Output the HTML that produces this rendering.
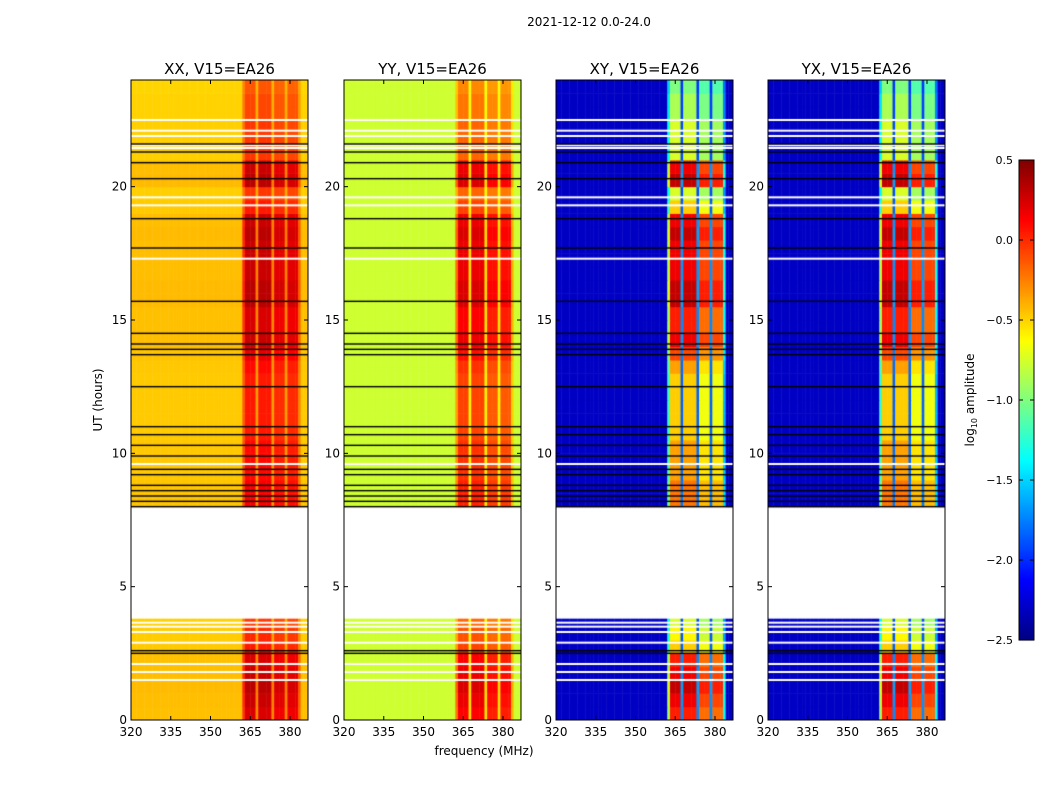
<!DOCTYPE html>
<html><head><meta charset="utf-8">
<style>
body{margin:0;background:#fff;font-family:"DejaVu Sans","Liberation Sans",sans-serif;}
#wrap{position:relative;width:1050px;height:800px;overflow:hidden;}
canvas,svg{position:absolute;left:0;top:0;}
</style></head>
<body>
<div id="wrap">
<canvas id="cv" width="1050" height="800"></canvas>
<svg id="sv" width="1050" height="800" font-family="DejaVu Sans, Liberation Sans, sans-serif"></svg>
</div>
<script>
// ---- data ----
const panelTitles = ["XX, V15=EA26","YY, V15=EA26","XY, V15=EA26","YX, V15=EA26"];
const panelBase = [-0.47, -0.77, -2.3, -2.3];
const panelAmp = [0.75, 1.0, 2.6, 2.6];
const freqStart = 320;
// rfi strength per 1 MHz bin from 320 to 386
const rfiShape = [0,0,0,0,0,0,0,0,0,0, 0,0,0,0,0,0,0,0,0,0, 0,0,0,0,0,0,0,0,0,0, 0,0,0,0,0,0,0,0,0,0,
  0,0,0.6,1,1,1,1,0.25,1,1, 1,1,1,0.25,0.9,0.9,0.9,0.9,0.25,0.9, 0.9,0.9,0.9,0.4,0,0,0];
// activity per 0.5 h from 0 to 24 (null = flagged)
const activity = [0.9,0.95,1.0,0.95,0.9,0.7,0.65,0.6, null,null,null,null,null,null,null,null,
  0.8,0.8,0.75,0.75,0.75,0.7,0.7,0.7,0.7,0.7,0.75,0.85,0.95,0.9,0.9,1.0,
  1.0,0.95,0.95,0.95,1.0,0.95,0.7,0.6,1.0,0.95,0.6,0.6,0.6,0.55,0.55,0.5];
const whiteLines = [1.5,1.8,2.1,2.9,3.3,3.5,3.65,9.6,17.3,19.3,19.6,21.45,21.55,21.9,22.1,22.5];
const blackLines = [2.5,2.6,8.0,8.2,8.4,8.6,8.8,9.2,9.4,9.9,10.3,10.7,11.0,12.5,13.7,13.9,14.1,14.5,15.7,17.7,18.8,20.3,20.9,21.3,21.6];
const flagRange = [3.8,7.9];
const xTicks = [320,335,350,365,380];
const yTicks = [0,5,10,15,20];
const cbTicks = [0.5,0.0,-0.5,-1.0,-1.5,-2.0,-2.5];

// ---- geometry ----
const panelLeft = [131,344,556,768], pw=177, pTop=80, pBot=720;
const xs = f => (f-320)*2.65;
const ys = t => pBot - t*(pBot-pTop)/24;
function jet(v){let x=(v+2.5)/3;x=Math.max(0,Math.min(1,x));
 const c=a=>Math.round(255*Math.max(0,Math.min(1,a)));
 return `rgb(${c(1.5-Math.abs(4*x-3))},${c(1.5-Math.abs(4*x-2))},${c(1.5-Math.abs(4*x-1))})`;}

const ctx=document.getElementById('cv').getContext('2d');
const NS="http://www.w3.org/2000/svg", sv=document.getElementById('sv');
function el(tag,attrs,txt){const e=document.createElementNS(NS,tag);for(const k in attrs)e.setAttribute(k,attrs[k]);if(txt!==undefined)e.textContent=txt;sv.appendChild(e);return e;}

panelLeft.forEach((L,p)=>{
  ctx.save();ctx.beginPath();ctx.rect(L,pTop,pw,pBot-pTop);ctx.clip();
  activity.forEach((a,ti)=>{
    if(a===null)return;
    const y0=ys(ti*0.5+0.5), y1=ys(ti*0.5);
    rfiShape.forEach((r,fi)=>{
      let v=panelBase[p]+panelAmp[p]*r*a;
      if(p===0) v+=0.15*(a-0.7);
      ctx.fillStyle=jet(v);
      ctx.fillRect(L+xs(freqStart+fi),y0,xs(freqStart+fi+1)-xs(freqStart+fi)+0.5,y1-y0+0.5);
    });
  });
  ctx.fillStyle='#fff';
  ctx.fillRect(L,ys(flagRange[1]),pw,ys(flagRange[0])-ys(flagRange[1]));
  whiteLines.forEach(t=>ctx.fillRect(L,ys(t)-1,pw,2));
  ctx.fillStyle='#000';
  blackLines.forEach(t=>ctx.fillRect(L,ys(t)-0.7,pw,1.4));
  ctx.restore();
  const fr=el('rect',{x:L,y:pTop,width:pw,height:pBot-pTop,fill:'none',stroke:'#000','stroke-width':1});
  
  
  const tt=el('text',{x:L+pw/2,y:74,'text-anchor':'middle','font-size':15},panelTitles[p]);
  
  
  xTicks.forEach(f=>{const x=L+xs(f);
    el('line',{x1:x,x2:x,y1:pBot,y2:pBot-4,stroke:'#000'});el('line',{x1:x,x2:x,y1:pTop,y2:pTop+4,stroke:'#000'});
    const t=el('text',{x:x,y:pBot+16,'text-anchor':'middle','font-size':12},String(f));
    
    });
  yTicks.forEach(h=>{const y=ys(h);
    el('line',{x1:L,x2:L+4,y1:y,y2:y,stroke:'#000'});el('line',{x1:L+pw,x2:L+pw-4,y1:y,y2:y,stroke:'#000'});
    const t=el('text',{x:L-4,y:y+4,'text-anchor':'end','font-size':12},String(h));
    
    });
});
let t;
t=el('text',{x:589,y:26,'text-anchor':'middle','font-size':12},'2021-12-12 0.0-24.0');


t=el('text',{x:484,y:755,'text-anchor':'middle','font-size':12},'frequency (MHz)');


t=el('text',{x:102,y:400,'text-anchor':'middle','font-size':12,transform:'rotate(-90 102 400)'},'UT (hours)');


// colorbar
const cbL=1019,cbW=15,cbT=160,cbB=640;
for(let i=0;i<cbB-cbT;i++){ctx.fillStyle=jet(0.5-3*i/(cbB-cbT));ctx.fillRect(cbL,cbT+i,cbW,1.2);}
t=el('rect',{x:cbL,y:cbT,width:cbW,height:cbB-cbT,fill:'none',stroke:'#000'});


cbTicks.forEach(v=>{const y=cbT+(0.5-v)/3*(cbB-cbT);
  el('line',{x1:cbL,x2:cbL+4,y1:y,y2:y,stroke:'#000'});el('line',{x1:cbL+cbW,x2:cbL+cbW-4,y1:y,y2:y,stroke:'#000'});
  const s=el('text',{x:1013,y:y+4,'font-size':11,'text-anchor':'end'},(v<0?'\u2212':'')+Math.abs(v).toFixed(1));
  
  });
t=el('text',{x:974,y:400,'text-anchor':'middle','font-size':12,transform:'rotate(-90 974 400)'});
t.innerHTML='log<tspan font-size="8" dy="3">10</tspan><tspan dy="-3"> amplitude</tspan>';


</script>
</body></html>
